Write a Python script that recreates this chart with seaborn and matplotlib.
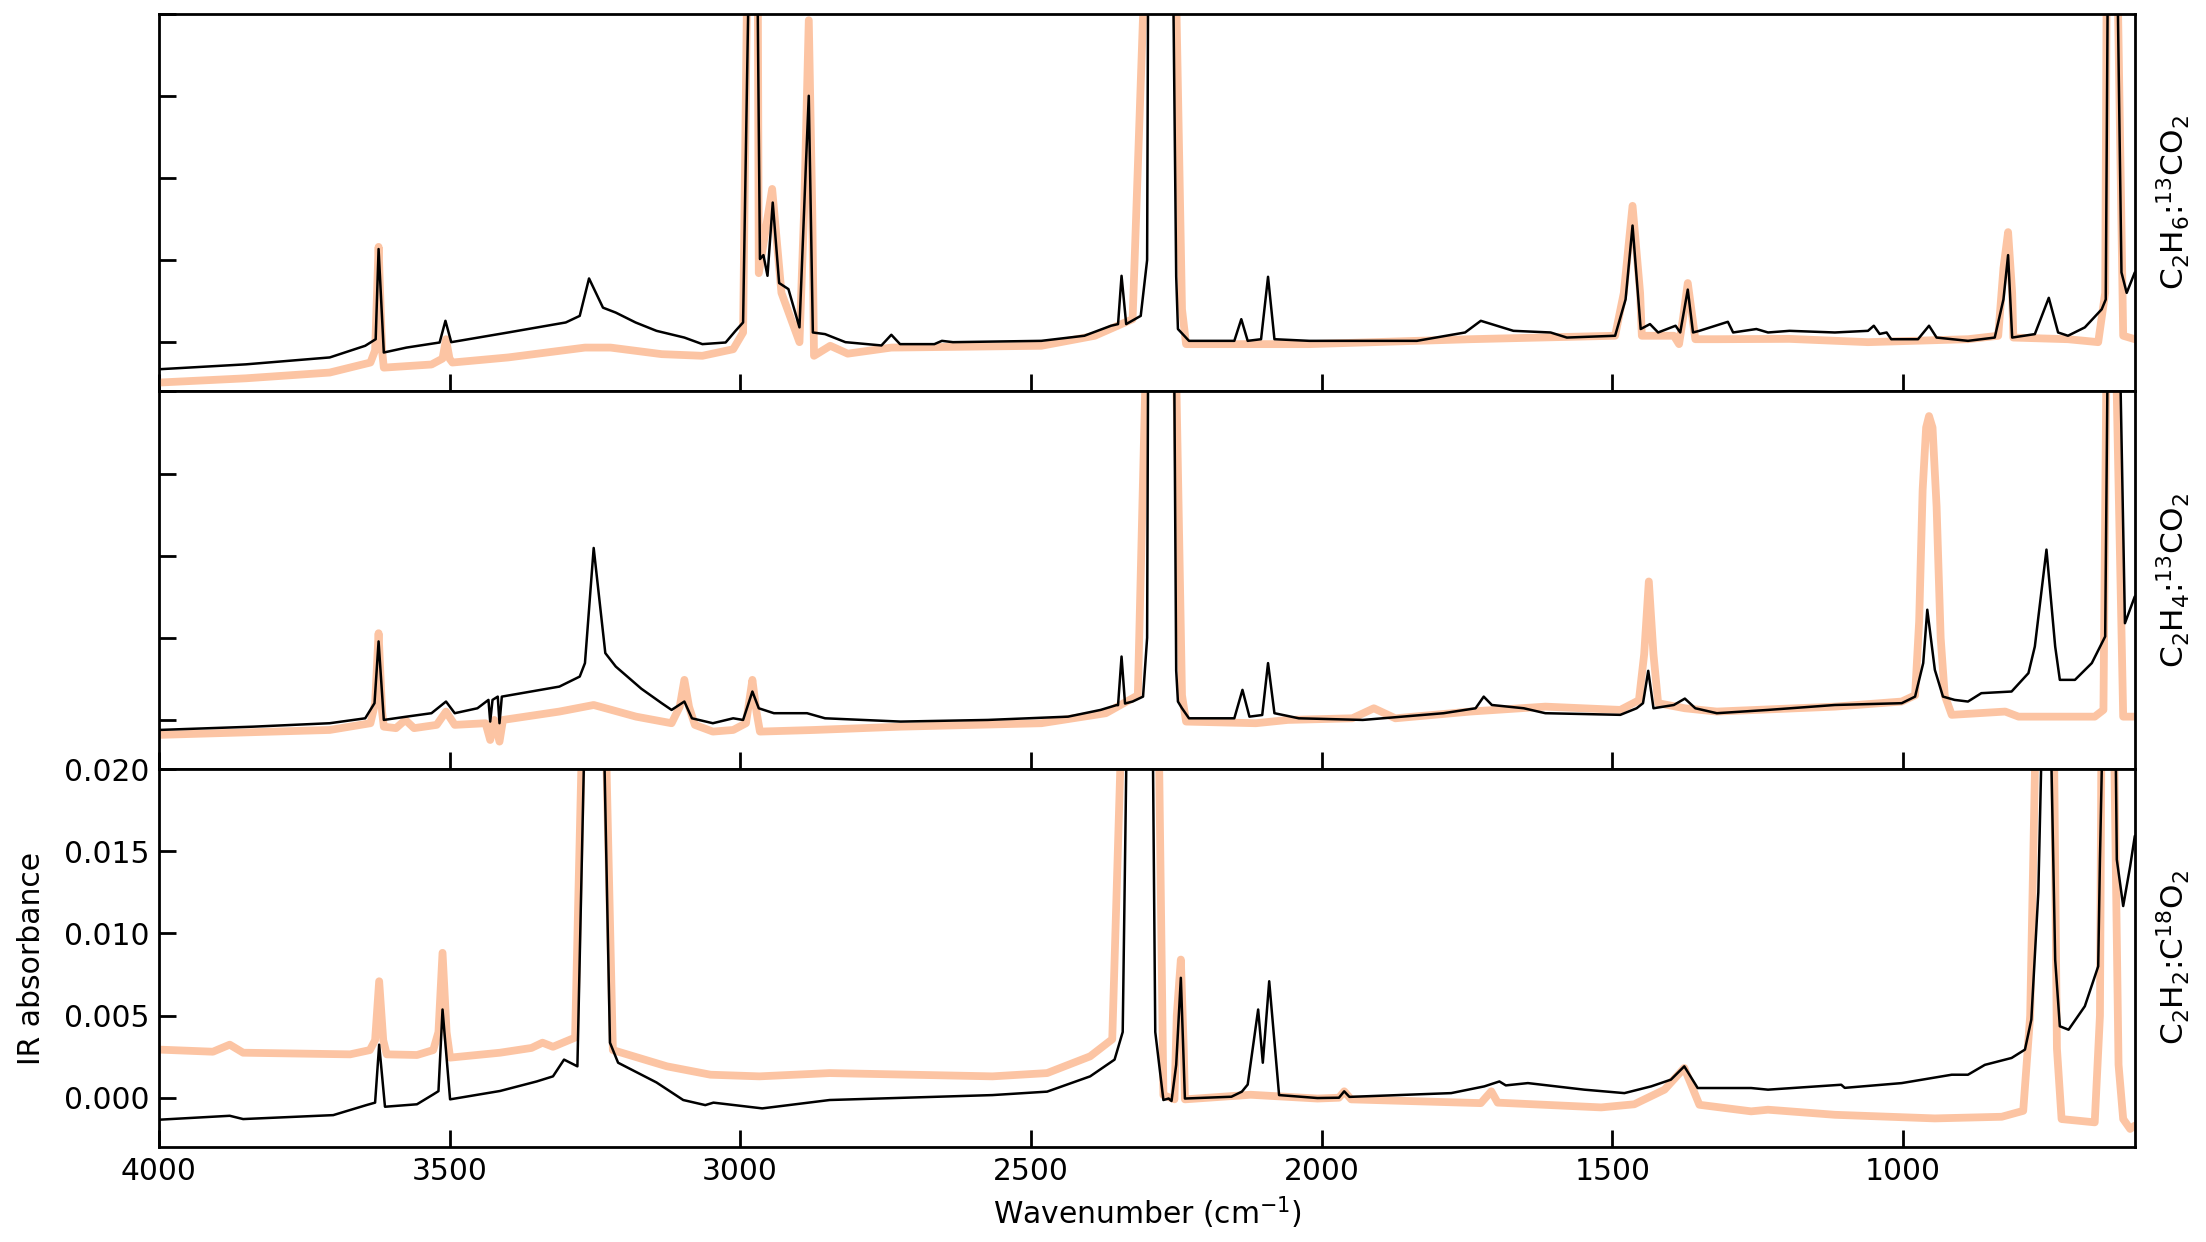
import matplotlib
matplotlib.use("Agg")
import matplotlib.pyplot as plt
import numpy as np
import pandas as pd
import seaborn as sns
from matplotlib.ticker import FormatStrFormatter, MultipleLocator

# ---- spectra (wavenumber in cm-1, IR absorbance) ----
# panel 1: C2H6:13CO2
c2h6_black_wn = [4000, 3850, 3706, 3645, 3627, 3622, 3613, 3574, 3517, 3507, 3497, 3399, 3300, 3276,
                 3260, 3236, 3214, 3180, 3144, 3096, 3065, 3025, 3008, 2995, 2984, 2978, 2971, 2966,
                 2960, 2953, 2944, 2933, 2917, 2898, 2887, 2882, 2875, 2854, 2819, 2757, 2740, 2725,
                 2666, 2653, 2634, 2482, 2408, 2362, 2350, 2344, 2336, 2311, 2300, 2298, 2278, 2256,
                 2250, 2247, 2228, 2150, 2138, 2127, 2104, 2092, 2081, 2021, 1836, 1753, 1726, 1670,
                 1606, 1578, 1495, 1477, 1465, 1451, 1435, 1421, 1391, 1383, 1370, 1361, 1350, 1301,
                 1292, 1252, 1232, 1195, 1117, 1060, 1050, 1040, 1028, 1020, 974, 955, 942, 888, 842,
                 827, 819, 812, 773, 749, 733, 716, 687, 658, 651, 647, 640, 632, 624, 615, 601]
c2h6_black_ab = [-0.00165, -0.00135, -0.00093, -0.00022, 0.00018, 0.00567, -0.00063, -0.00033,
                 -0.00002, 0.00130, 0.00000, 0.00059, 0.00120, 0.00160, 0.00388, 0.00210, 0.00180,
                 0.00120, 0.00069, 0.00028, -0.00012, -0.00002, 0.00069, 0.00120, 0.02500, 0.03000,
                 0.02500, 0.00506, 0.00530, 0.00404, 0.00850, 0.00360, 0.00323, 0.00090, 0.01075,
                 0.01500, 0.00059, 0.00049, 0.00000, -0.00020, 0.00045, -0.00012, -0.00012, 0.00008,
                 0.00000, 0.00008, 0.00039, 0.00100, 0.00110, 0.00404, 0.00110, 0.00160, 0.00500,
                 0.02500, 0.04000, 0.02500, 0.00400, 0.00080, 0.00008, 0.00008, 0.00140, 0.00008,
                 0.00018, 0.00398, 0.00018, 0.00008, 0.00008, 0.00059, 0.00130, 0.00069, 0.00059,
                 0.00028, 0.00039, 0.00260, 0.00710, 0.00080, 0.00110, 0.00059, 0.00100, 0.00059,
                 0.00320, 0.00059, 0.00069, 0.00124, 0.00059, 0.00080, 0.00059, 0.00069, 0.00059,
                 0.00069, 0.00100, 0.00050, 0.00059, 0.00018, 0.00018, 0.00100, 0.00028, 0.00008,
                 0.00028, 0.00260, 0.00530, 0.00028, 0.00049, 0.00270, 0.00059, 0.00039, 0.00090,
                 0.00200, 0.00260, 0.02500, 0.03500, 0.02500, 0.00425, 0.00300, 0.00425]
c2h6_orange_wn = [4000, 3850, 3706, 3636, 3628, 3622, 3616, 3613, 3531, 3512, 3506, 3500, 3495, 3399,
                  3267, 3223, 3135, 3065, 3012, 2995, 2987, 2978, 2970, 2968, 2945, 2929, 2898, 2890,
                  2882, 2876, 2873, 2845, 2815, 2740, 2666, 2482, 2390, 2325, 2302, 2278, 2252, 2240,
                  2233, 2021, 1744, 1495, 1480, 1465, 1452, 1449, 1394, 1385, 1378, 1370, 1362, 1357,
                  1320, 1195, 1060, 888, 836, 827, 819, 812, 810, 716, 664, 652, 649, 641, 632, 621,
                  601]
c2h6_orange_ab = [-0.00246, -0.00220, -0.00185, -0.00124, -0.00050, 0.00580, -0.00050, -0.00155,
                  -0.00136, -0.00100, 0.00018, -0.00100, -0.00124, -0.00093, -0.00033, -0.00033,
                  -0.00073, -0.00083, -0.00043, 0.00059, 0.02500, 0.03000, 0.02500, 0.00420, 0.00933,
                  0.00300, 0.00000, 0.00800, 0.01960, 0.00800, -0.00083, -0.00022, -0.00070,
                  -0.00033, -0.00030, -0.00022, 0.00039, 0.00140, 0.02500, 0.04000, 0.02500, 0.00200,
                  -0.00012, -0.00012, 0.00018, 0.00039, 0.00300, 0.00830, 0.00300, 0.00039, 0.00039,
                  -0.00012, 0.00150, 0.00360, 0.00150, 0.00018, 0.00018, 0.00020, 0.00000, 0.00018,
                  0.00039, 0.00450, 0.00670, 0.00300, 0.00028, 0.00018, 0.00000, 0.00300, 0.02500,
                  0.03500, 0.02500, 0.00039, 0.00018]

# panel 2: C2H4:13CO2
c2h4_black_wn = [4000, 3838, 3706, 3645, 3629, 3622, 3613, 3574, 3531, 3506, 3491, 3452, 3433, 3430,
                 3426, 3417, 3414, 3410, 3311, 3276, 3267, 3252, 3232, 3214, 3170, 3135, 3118, 3096,
                 3083, 3047, 3012, 2995, 2979, 2968, 2942, 2916, 2885, 2854, 2724, 2574, 2436, 2380,
                 2353, 2350, 2344, 2338, 2325, 2307, 2300, 2298, 2278, 2254, 2250, 2247, 2240, 2228,
                 2150, 2136, 2124, 2102, 2092, 2081, 2039, 1929, 1790, 1735, 1721, 1707, 1652, 1615,
                 1486, 1458, 1447, 1438, 1429, 1394, 1375, 1357, 1320, 1232, 1117, 1002, 979, 965,
                 958, 945, 931, 911, 888, 865, 813, 784, 773, 753, 738, 730, 704, 675, 652, 647, 639,
                 628, 618, 601]
c2h4_black_ab = [-0.00061, -0.00041, -0.00020, 0.00010, 0.00102, 0.00478, 0.00000, 0.00020, 0.00041,
                 0.00112, 0.00041, 0.00071, 0.00122, -0.00010, 0.00122, 0.00142, -0.00020, 0.00142,
                 0.00203, 0.00264, 0.00346, 0.01047, 0.00407, 0.00325, 0.00190, 0.00102, 0.00061,
                 0.00112, 0.00010, -0.00020, 0.00010, 0.00000, 0.00173, 0.00071, 0.00041, 0.00041,
                 0.00041, 0.00010, -0.00010, 0.00000, 0.00020, 0.00061, 0.00090, 0.00090, 0.00386,
                 0.00100, 0.00112, 0.00142, 0.00500, 0.02500, 0.04000, 0.02500, 0.00300, 0.00112,
                 0.00071, 0.00010, 0.00010, 0.00183, 0.00020, 0.00030, 0.00346, 0.00041, 0.00010,
                 0.00000, 0.00041, 0.00071, 0.00142, 0.00091, 0.00071, 0.00041, 0.00031, 0.00071,
                 0.00102, 0.00299, 0.00071, 0.00091, 0.00130, 0.00071, 0.00041, 0.00061, 0.00091,
                 0.00102, 0.00142, 0.00346, 0.00671, 0.00305, 0.00142, 0.00122, 0.00112, 0.00163,
                 0.00173, 0.00285, 0.00447, 0.01037, 0.00447, 0.00244, 0.00244, 0.00346, 0.00508,
                 0.02500, 0.04000, 0.02500, 0.00589, 0.00752]
c2h4_orange_wn = [4000, 3706, 3636, 3628, 3622, 3616, 3613, 3592, 3576, 3561, 3522, 3506, 3491, 3438,
                  3430, 3423, 3414, 3408, 3311, 3252, 3179, 3118, 3104, 3096, 3088, 3078, 3047, 3012,
                  2990, 2985, 2979, 2972, 2966, 2872, 2724, 2482, 2371, 2316, 2300, 2278, 2252, 2240,
                  2233, 2113, 2058, 1947, 1910, 1873, 1744, 1615, 1486, 1454, 1445, 1437, 1429, 1421,
                  1375, 1320, 1117, 1002, 979, 972, 966, 960, 955, 949, 942, 935, 928, 916, 824, 801,
                  670, 655, 649, 641, 635, 621, 601]
c2h4_orange_ab = [-0.00091, -0.00061, -0.00020, 0.00100, 0.00528, 0.00050, -0.00041, -0.00050,
                  0.00000, -0.00050, -0.00030, 0.00051, -0.00030, -0.00020, -0.00122, 0.00000,
                  -0.00132, 0.00000, 0.00051, 0.00091, 0.00020, -0.00020, 0.00080, 0.00244, 0.00080,
                  -0.00030, -0.00071, -0.00061, -0.00020, 0.00100, 0.00244, 0.00050, -0.00071,
                  -0.00061, -0.00041, -0.00020, 0.00041, 0.00150, 0.02500, 0.04000, 0.02500, 0.00150,
                  -0.00010, -0.00020, 0.00000, 0.00010, 0.00071, 0.00010, 0.00051, 0.00081, 0.00061,
                  0.00120, 0.00400, 0.00843, 0.00400, 0.00102, 0.00071, 0.00051, 0.00081, 0.00112,
                  0.00150, 0.00600, 0.01400, 0.01780, 0.01850, 0.01780, 0.01300, 0.00500, 0.00150,
                  0.00031, 0.00051, 0.00020, 0.00020, 0.00061, 0.02500, 0.03500, 0.02500, 0.00020,
                  0.00020]

# panel 3: C2H2:C18O2
c2h2_black_wn = [4000, 3878, 3855, 3700, 3643, 3628, 3621, 3611, 3556, 3528, 3519, 3512, 3499, 3413,
                 3350, 3322, 3303, 3280, 3266, 3252, 3236, 3224, 3210, 3144, 3098, 3060, 3046, 2962,
                 2846, 2566, 2472, 2398, 2356, 2342, 2334, 2310, 2291, 2286, 2272, 2263, 2258, 2250,
                 2242, 2235, 2155, 2137, 2127, 2109, 2101, 2090, 2073, 2036, 2007, 1970, 1961, 1952,
                 1777, 1720, 1694, 1683, 1645, 1548, 1479, 1433, 1399, 1376, 1353, 1261, 1232, 1106,
                 1100, 1002, 916, 888, 859, 813, 790, 779, 767, 759, 751, 747, 738, 730, 715, 687, 664,
                 661, 655, 648, 635, 632, 621, 609, 601]
c2h2_black_ab = [-0.00134, -0.00110, -0.00130, -0.00106, -0.00045, -0.00030, 0.00323, -0.00055,
                 -0.00040, 0.00020, 0.00040, 0.00537, -0.00010, 0.00041, 0.00099, 0.00130, 0.00232,
                 0.00191, 0.02500, 0.03000, 0.02500, 0.00335, 0.00213, 0.00093, -0.00014, -0.00045,
                 -0.00030, -0.00065, -0.00014, 0.00016, 0.00037, 0.00130, 0.00232, 0.00400, 0.02500,
                 0.03500, 0.02500, 0.00400, -0.00014, -0.00005, -0.00020, 0.00200, 0.00730, -0.00005,
                 0.00006, 0.00037, 0.00080, 0.00537, 0.00213, 0.00709, 0.00016, 0.00006, -0.00002,
                 0.00000, 0.00039, 0.00005, 0.00028, 0.00069, 0.00099, 0.00075, 0.00089, 0.00049,
                 0.00028, 0.00069, 0.00110, 0.00191, 0.00059, 0.00059, 0.00049, 0.00079, 0.00060,
                 0.00089, 0.00140, 0.00140, 0.00200, 0.00242, 0.00293, 0.00476, 0.01250, 0.02500,
                 0.03000, 0.02500, 0.00840, 0.00435, 0.00414, 0.00557, 0.00800, 0.01450, 0.02500,
                 0.03000, 0.02500, 0.01450, 0.01167, 0.01410, 0.01594]
c2h2_orange_wn = [4000, 3907, 3878, 3855, 3671, 3637, 3628, 3621, 3614, 3608, 3556, 3528, 3519, 3512,
                  3505, 3499, 3413, 3359, 3340, 3322, 3284, 3270, 3252, 3233, 3219, 3126, 3051, 2967,
                  2846, 2566, 2472, 2398, 2360, 2342, 2310, 2281, 2272, 2253, 2249, 2242, 2237, 2235,
                  2122, 2007, 1970, 1961, 1949, 1726, 1708, 1697, 1519, 1462, 1410, 1376, 1350, 1261,
                  1232, 1117, 945, 830, 793, 781, 770, 753, 741, 735, 727, 670, 661, 658, 650, 638, 629,
                  621, 609, 601]
c2h2_orange_ab = [0.00293, 0.00280, 0.00323, 0.00274, 0.00264, 0.00290, 0.00350, 0.00709, 0.00350,
                  0.00264, 0.00260, 0.00290, 0.00400, 0.00882, 0.00400, 0.00244, 0.00274, 0.00303,
                  0.00335, 0.00310, 0.00366, 0.02500, 0.03000, 0.02500, 0.00290, 0.00191, 0.00140,
                  0.00130, 0.00150, 0.00130, 0.00150, 0.00252, 0.00356, 0.02500, 0.03500, 0.02500,
                  0.00016, -0.00010, 0.00500, 0.00841, 0.00300, -0.00010, 0.00018, -0.00005, 0.00000,
                  0.00039, -0.00010, -0.00033, 0.00039, -0.00030, -0.00059, -0.00040, 0.00049,
                  0.00181, -0.00043, -0.00083, -0.00073, -0.00104, -0.00126, -0.00116, -0.00080,
                  0.00500, 0.02500, 0.03000, 0.02500, 0.00300, -0.00130, -0.00150, 0.00500, 0.02500,
                  0.03000, 0.02500, 0.00200, -0.00130, -0.00190, -0.00170]

panel_labels = ["C$_2$H$_6$:$^{13}$CO$_2$", "C$_2$H$_4$:$^{13}$CO$_2$", "C$_2$H$_2$:C$^{18}$O$_2$"]
x_ticks = [4000, 3500, 3000, 2500, 2000, 1500, 1000]

panels = [
    (c2h6_black_wn, c2h6_black_ab, c2h6_orange_wn, c2h6_orange_ab),
    (c2h4_black_wn, c2h4_black_ab, c2h4_orange_wn, c2h4_orange_ab),
    (c2h2_black_wn, c2h2_black_ab, c2h2_orange_wn, c2h2_orange_ab),
]

# estilo
sns.set_theme(style="ticks", rc={
    "axes.edgecolor": "black", "axes.linewidth": 1.0,
    "text.color": "black", "axes.labelcolor": "black",
    "xtick.color": "black", "ytick.color": "black",
})
plt.rcParams["font.family"] = ["DejaVu Sans"]
plt.rcParams["mathtext.fontset"] = "dejavusans"

orange = "#fcc4a3"

fig, axes = plt.subplots(3, 1, sharex=True, sharey=True, figsize=(11.03, 6.21), dpi=200)
plt.subplots_adjust(left=0.072, right=0.968, top=0.989, bottom=0.0765, hspace=0)

for i, (ax, (bwn, bab, own, oab)) in enumerate(zip(axes, panels)):
    df_o = pd.DataFrame({"wn": own, "ab": oab})
    df_b = pd.DataFrame({"wn": bwn, "ab": bab})
    sns.lineplot(data=df_o, x="wn", y="ab", ax=ax, color=orange, linewidth=2.8,
                 estimator=None, sort=False, solid_capstyle="round")
    sns.lineplot(data=df_b, x="wn", y="ab", ax=ax, color="black", linewidth=0.9,
                 estimator=None, sort=False)
    ax.set_xlabel("")
    ax.set_ylabel("")
    # etiqueta de la mezcla a la derecha
    ax.text(1.019, 0.5, panel_labels[i], transform=ax.transAxes, rotation=90,
            ha="center", va="center", fontsize=11.2)
    ax.tick_params(axis="both", direction="in", length=6, width=1.0, labelsize=10.7,
                   top=False, right=False)
    if i < 2:
        ax.tick_params(labelleft=False, labelbottom=False)

ax = axes[-1]
ax.set_xlim(4000, 600)
ax.set_ylim(-0.003, 0.020)
ax.set_xticks(x_ticks)
ax.yaxis.set_major_locator(MultipleLocator(0.005))
ax.yaxis.set_major_formatter(FormatStrFormatter("%.3f"))
ax.set_xlabel("Wavenumber (cm$^{-1}$)", fontsize=10.7)
ax.set_ylabel("IR absorbance", fontsize=10.7)
ax.xaxis.set_label_coords(0.5, -0.125)
ax.yaxis.set_label_coords(-0.057, 0.5)

plt.savefig("out.png", dpi=200)
